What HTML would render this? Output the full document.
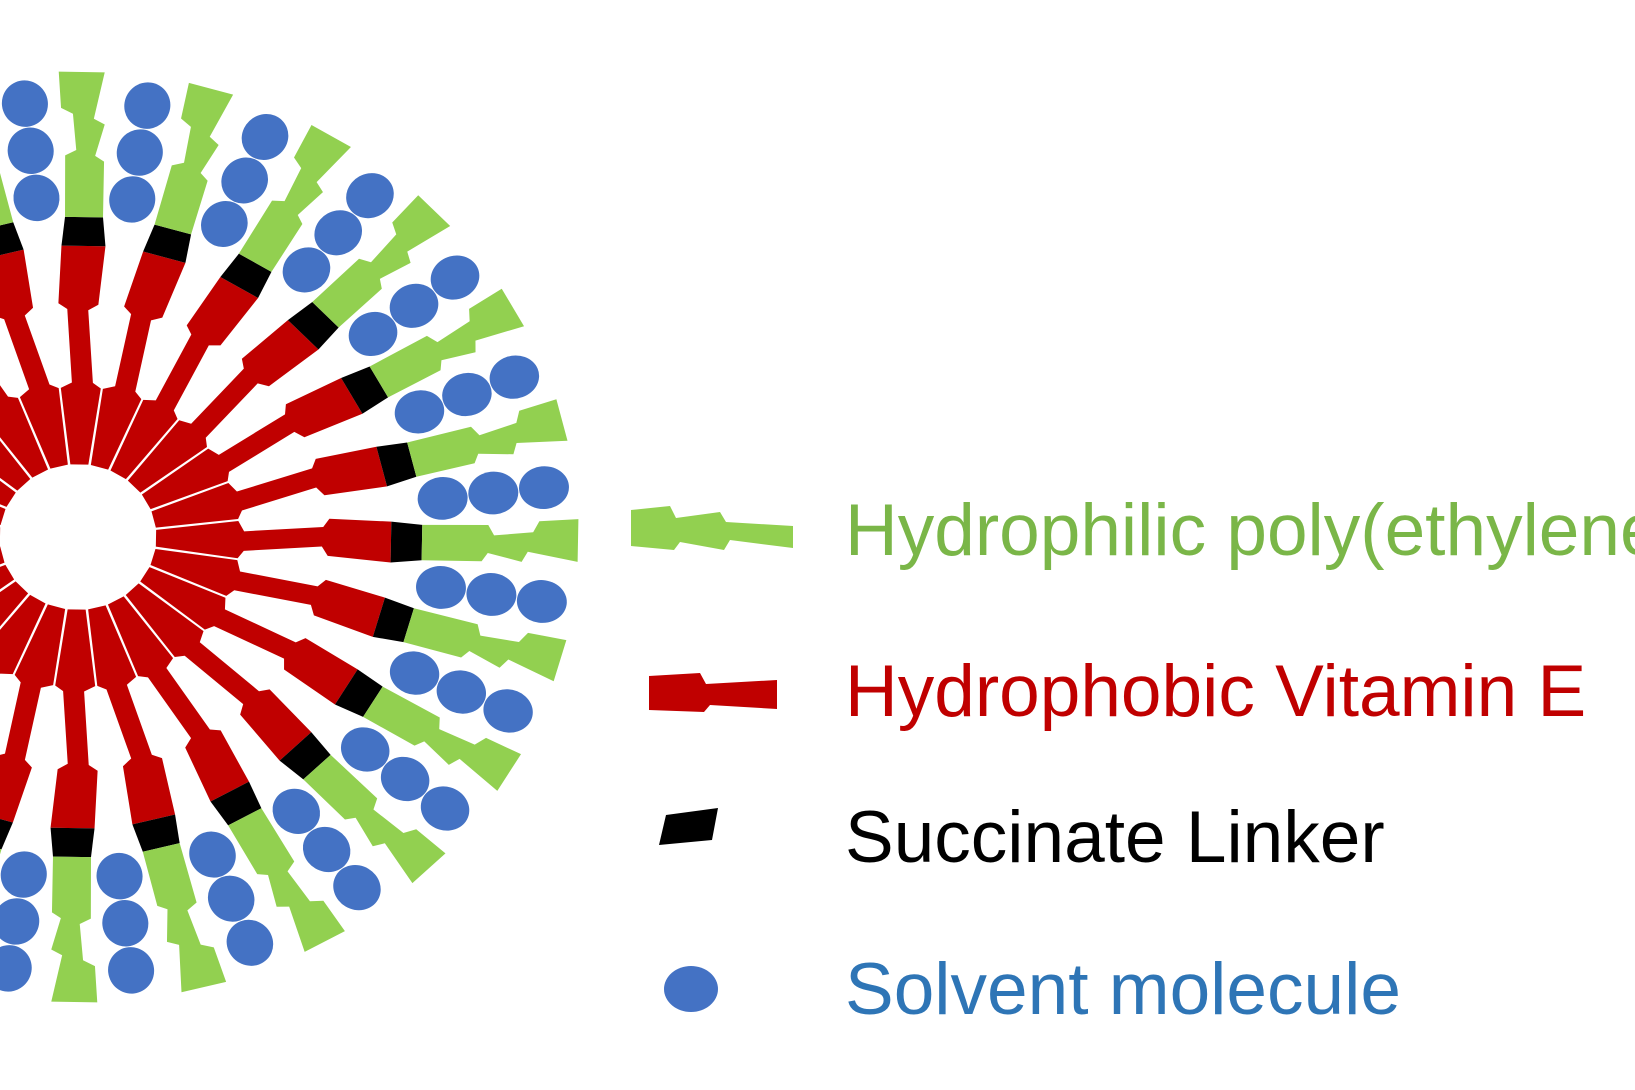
<!DOCTYPE html>
<html><head><meta charset="utf-8"><style>
html,body{margin:0;padding:0;background:#fff;width:1635px;height:1090px;overflow:hidden}
svg{position:absolute;left:0;top:0}
.t{font-family:"Liberation Sans",sans-serif;font-size:73px}
</style></head><body>
<svg width="1635" height="1090" viewBox="0 0 1635 1090">
<defs>
<g id="sp">
<polygon fill="#c00000" points="78,-9 160,-20 166,-9 245,-15 251,-24 313,-22 313,22 250,16 244,6 166,12 160,20 78,9"/>
<polygon fill="#000" points="313,-22 344,-19 344,19 313,22"/>
<polygon fill="#92d050" points="344,-19 410,-20 416,-9 455,-13 461,-25 500,-28 500,18 450,8 444,19 410,10 404,19 344,19"/>
</g>
<g id="dt" fill="#4472c4">
<ellipse cx="367" cy="0" rx="25" ry="23"/>
<ellipse cx="418" cy="0" rx="25" ry="23"/>
<ellipse cx="469" cy="0" rx="25" ry="23"/>
</g>
</defs>
<g transform="translate(78,537) scale(1,0.93)">
<use href="#sp" transform="rotate(-89)"/><use href="#sp" transform="rotate(-74)"/><use href="#sp" transform="rotate(-59)"/><use href="#sp" transform="rotate(-44)"/><use href="#sp" transform="rotate(-29)"/><use href="#sp" transform="rotate(-14)"/><use href="#sp" transform="rotate(1)"/><use href="#sp" transform="rotate(16)"/><use href="#sp" transform="rotate(31)"/><use href="#sp" transform="rotate(46)"/><use href="#sp" transform="rotate(61)"/><use href="#sp" transform="rotate(76)"/><use href="#sp" transform="rotate(91)"/><use href="#sp" transform="rotate(106)"/><use href="#sp" transform="rotate(121)"/><use href="#sp" transform="rotate(136)"/><use href="#sp" transform="rotate(151)"/><use href="#sp" transform="rotate(166)"/><use href="#sp" transform="rotate(181)"/><use href="#sp" transform="rotate(196)"/><use href="#sp" transform="rotate(211)"/><use href="#sp" transform="rotate(226)"/><use href="#sp" transform="rotate(241)"/><use href="#sp" transform="rotate(256)"/>
<use href="#dt" transform="rotate(-81.5)"/><use href="#dt" transform="rotate(-66.5)"/><use href="#dt" transform="rotate(-51.5)"/><use href="#dt" transform="rotate(-36.5)"/><use href="#dt" transform="rotate(-21.5)"/><use href="#dt" transform="rotate(-6.5)"/><use href="#dt" transform="rotate(8.5)"/><use href="#dt" transform="rotate(23.5)"/><use href="#dt" transform="rotate(38.5)"/><use href="#dt" transform="rotate(53.5)"/><use href="#dt" transform="rotate(68.5)"/><use href="#dt" transform="rotate(83.5)"/><use href="#dt" transform="rotate(98.5)"/><use href="#dt" transform="rotate(-96.5)"/><use href="#dt" transform="rotate(113.5)"/><use href="#dt" transform="rotate(-111.5)"/>
</g>
<polygon fill="#92d050" points="631,510 670,506 676,518 720,512 726,522 793,526 793,548 730,540 724,550 680,542 674,550 631,546"/>
<polygon fill="#c00000" points="649,676 700,673 706,684 777,680 777,709 710,705 704,712 649,710"/>
<polygon fill="#000" points="666,815 718,808 712,840 659,845"/>
<ellipse cx="691" cy="989" rx="27" ry="23" fill="#4472c4"/>
<text class="t" x="845" y="555" fill="#7ab648">Hydrophilic poly(ethylene glycol)</text>
<text class="t" x="845" y="716" fill="#c00000">Hydrophobic Vitamin E</text>
<text class="t" x="845" y="862" fill="#000">Succinate Linker</text>
<text class="t" x="845" y="1014" fill="#2e75b6">Solvent molecule</text>
</svg>
</body></html>
